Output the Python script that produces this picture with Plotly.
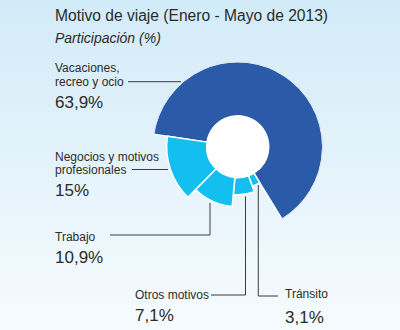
import base64
import plotly.graph_objects as go

# Travel purpose shares, January-May 2013 (clockwise order around the ring)
categories = ["Vacaciones, recreo y ocio", "Tránsito", "Otros motivos",
              "Trabajo", "Negocios y motivos profesionales"]
shares = [63.9, 3.1, 7.1, 10.9, 15.0]

# Styling of the ring: outer radius of each slice (px-like radial units)
outer_radius = [85, 42, 48, 60, 71]
hole_radius = 31
slice_colors = ["#2a5aa8", "#12bfee", "#12bfee", "#12bfee", "#12bfee"]
start_angle = 278.5

W, H = 400, 330


def px(x):
    return x / W


def py(y):
    return 1 - y / H


def pct(v):
    s = f"{v:.1f}".replace(".", ",")
    if s.endswith(",0"):
        s = s[:-2]
    return s + "%"


# angular placement of the slices
thetas, widths = [], []
acc = start_angle
for v in shares:
    w = v * 3.6
    thetas.append((acc + w / 2) % 360)
    widths.append(w)
    acc += w

fig = go.Figure()
fig.add_trace(go.Barpolar(
    r=[hole_radius], theta=[0], width=[360], base=0,
    marker=dict(color="white", line=dict(width=0)),
    hoverinfo="skip", showlegend=False,
))
fig.add_trace(go.Barpolar(
    r=[o - hole_radius for o in outer_radius], theta=thetas, width=widths,
    base=hole_radius, text=categories,
    marker=dict(color=slice_colors, line=dict(color="white", width=1.5)),
    showlegend=False,
))

cx, cy, R = 237.7, 146.7, 85
fig.update_layout(
    width=W, height=H, margin=dict(l=0, r=0, t=0, b=0),
    paper_bgcolor="rgba(0,0,0,0)",
    polar=dict(
        domain=dict(x=[px(cx - R), px(cx + R)], y=[py(cy + R), py(cy - R)]),
        bgcolor="rgba(0,0,0,0)",
        radialaxis=dict(range=[0, R], visible=False),
        angularaxis=dict(rotation=90, direction="clockwise", visible=False),
    ),
)

# soft vertical gradient behind everything
svg = ('<svg xmlns="http://www.w3.org/2000/svg" width="400" height="330">'
       '<defs><linearGradient id="g" x1="0" y1="0" x2="0" y2="1">'
       '<stop offset="0" stop-color="#d2ebf8"/>'
       '<stop offset="1" stop-color="#f6fbfe"/></linearGradient></defs>'
       '<rect width="400" height="330" fill="url(#g)"/></svg>')
uri = "data:image/svg+xml;base64," + base64.b64encode(svg.encode()).decode()
fig.add_layout_image(dict(source=uri, xref="paper", yref="paper", x=0, y=1,
                          sizex=1, sizey=1, sizing="stretch", layer="below",
                          xanchor="left", yanchor="top"))

SANS = "Liberation Sans, Arial, sans-serif"
TXT = "#2b2b2b"
LBL = 12
PCT = 17


def text(x, y, s, size, anchor="left", italic=False):
    fig.add_annotation(x=px(x), y=py(y), xref="paper", yref="paper",
                       text=f"<i>{s}</i>" if italic else s, showarrow=False,
                       xanchor=anchor, yanchor="middle",
                       font=dict(family=SANS, size=size, color=TXT))


def line(points):
    for (x0, y0), (x1, y1) in zip(points[:-1], points[1:]):
        fig.add_shape(type="line", xref="paper", yref="paper",
                      x0=px(x0), y0=py(y0), x1=px(x1), y1=py(y1),
                      line=dict(color="#3a3a3a", width=1))


text(52.5, 16, "Motivo de viaje (Enero - Mayo de 2013)", 15.6)
text(52.5, 37.5, "Participación (%)", 14, italic=True)

# Vacaciones
text(52.5, 68, "Vacaciones,", LBL)
text(52.5, 82, "recreo y ocio", LBL)
text(52.5, 102, pct(shares[0]), PCT)
line([(128, 81.7), (181, 81.7)])

# Negocios
text(52.5, 157, "Negocios y motivos", LBL)
text(52.5, 170, "profesionales", LBL)
text(52.5, 191, pct(shares[4]), PCT)
line([(132, 169.5), (168, 169.5)])

# Trabajo
text(52.5, 236.5, "Trabajo", LBL)
text(52.5, 257, pct(shares[3]), PCT)
line([(110, 235), (210, 235), (210, 203)])

# Otros motivos
text(133, 295, "Otros motivos", LBL)
text(133, 315, pct(shares[2]), PCT)
line([(211, 295), (245.5, 295), (245.5, 196.5)])

# Tránsito
text(283, 294, "Tránsito", LBL)
text(283, 317, pct(shares[1]), PCT)
line([(258.3, 185), (258.3, 296), (278, 296)])

fig.write_html("out.html")
